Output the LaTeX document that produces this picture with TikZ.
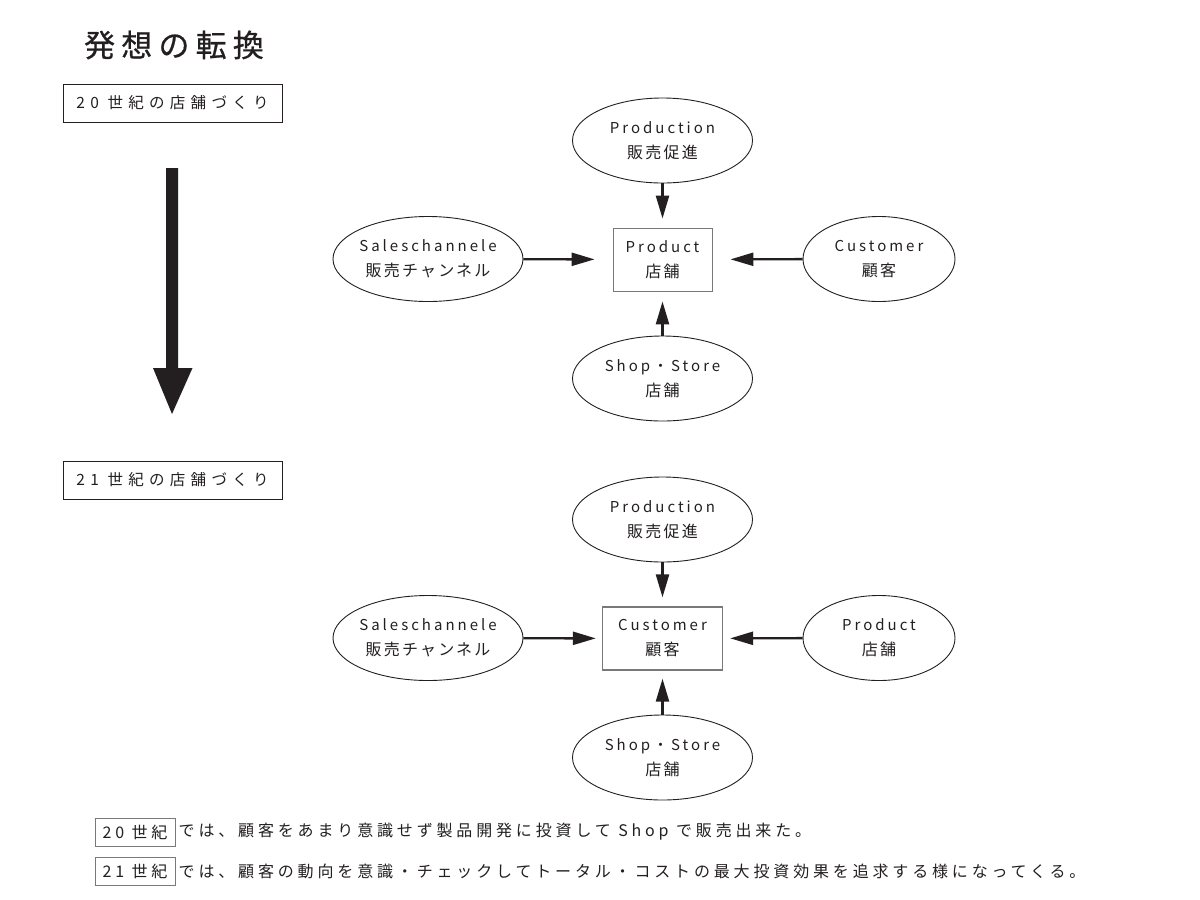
\documentclass[tikz,border=0pt]{standalone}
\usepackage{fontspec}
\setmainfont{Noto Sans CJK JP}
\newfontfamily\latf[LetterSpace=20]{Noto Sans CJK JP}
\newfontfamily\jpf[LetterSpace=14]{Noto Sans CJK JP}
\newfontfamily\boxf[LetterSpace=34]{Noto Sans CJK JP}
\newfontfamily\linef[LetterSpace=24]{Noto Sans CJK JP}
\newfontfamily\titlef[LetterSpace=20,FakeBold=0.6]{Noto Sans CJK JP}
\usetikzlibrary{shapes.geometric,arrows.meta}
\definecolor{ink}{HTML}{231F20}
\definecolor{boxgray}{HTML}{7A7878}
\begin{document}
\begin{tikzpicture}[x=1pt,y=-1pt,
  ell/.style={ellipse,draw=ink,line width=0.9pt,inner sep=0pt,minimum width=180pt,minimum height=85pt},
  ellw/.style={ell,minimum width=190pt},
  elln/.style={ell,minimum width=152pt},
  lbl/.style={align=center,text=ink,inner sep=0pt,font=\fontsize{15}{25}\selectfont},
  cbox/.style={draw=boxgray,line width=0.9pt,inner sep=0pt,minimum width=99pt,minimum height=63pt},
  cboxw/.style={draw=boxgray,line width=1.3pt,inner sep=0pt,minimum width=120pt,minimum height=63pt},
  conn/.style={draw=ink,line width=2.4pt,-{Triangle[length=23pt,width=13pt]}},
  hbox/.style={draw=ink,line width=0.8pt,inner sep=0pt,minimum width=219pt,minimum height=38pt,text=ink,font=\fontsize{15.5}{18}\boxf},
  sbox/.style={draw=boxgray,line width=1pt,inner sep=0pt,minimum width=80pt,minimum height=28pt,text=ink,font=\fontsize{16}{18}\linef},
  stext/.style={anchor=west,inner sep=0pt,text=ink,font=\fontsize{16}{18}\linef}]
\useasboundingbox (0,0) rectangle (1200,900);

% title
\node[text=ink,inner sep=0pt,font=\fontsize{31}{33}\titlef] (title) at (174,45) {発想の転換};

% left header boxes
\node[hbox] (h20) at (172.5,103) {20 世紀の店舗づくり};
\node[hbox] (h21) at (172.5,480) {21 世紀の店舗づくり};

% big arrow
\fill[ink] (166,168) -- (178,168) -- (178,368) -- (192.5,368) -- (172,414) -- (153,368) -- (166,368) -- cycle;

% ---------- 20th century cluster ----------
\node[cbox] (boxA) at (662.5,259.5) {};
\node[lbl] at (boxA) {{\latf Product}\\{\fontsize{16}{25}\jpf 店舗}};
\node[ell] (prodA) at (662.5,140.5) {};
\node[lbl] at (prodA) {{\latf Production}\\{\fontsize{16}{25}\jpf 販売促進}};
\node[ellw] (salesA) at (428,259) {};
\node[lbl] at (salesA) {{\latf Saleschannele}\\{\fontsize{16}{25}\jpf 販売チャンネル}};
\node[elln] (custA) at (879,259) {};
\node[lbl] at (custA) {{\latf Customer}\\{\fontsize{16}{25}\jpf 顧客}};
\node[ell] (shopA) at (662.5,378.5) {};
\node[lbl] at (shopA) {{\latf Shop・Store}\\{\fontsize{16}{25}\jpf 店舗}};

\draw[conn,shorten >=9pt] (prodA) -- (boxA);
\draw[conn,shorten >=18pt] (salesA) -- (boxA);
\draw[conn,shorten >=18pt] (custA) -- (boxA);
\draw[conn,shorten >=10pt] (shopA) -- (boxA);

% ---------- 21st century cluster ----------
\node[cboxw] (boxB) at (662.5,638.5) {};
\node[lbl] at (boxB) {{\latf Customer}\\{\fontsize{16}{25}\jpf 顧客}};
\node[ell] (prodB) at (662.5,519.5) {};
\node[lbl] at (prodB) {{\latf Production}\\{\fontsize{16}{25}\jpf 販売促進}};
\node[ellw] (salesB) at (428,638) {};
\node[lbl] at (salesB) {{\latf Saleschannele}\\{\fontsize{16}{25}\jpf 販売チャンネル}};
\node[elln] (prodC) at (879,638) {};
\node[lbl] at (prodC) {{\latf Product}\\{\fontsize{16}{25}\jpf 店舗}};
\node[ell] (shopB) at (662.5,757.5) {};
\node[lbl] at (shopB) {{\latf Shop・Store}\\{\fontsize{16}{25}\jpf 店舗}};

\draw[conn,shorten >=9pt] (prodB) -- (boxB);
\draw[conn,shorten >=6pt] (salesB) -- (boxB);
\draw[conn,shorten >=7pt] (prodC) -- (boxB);
\draw[conn,shorten >=8pt] (shopB) -- (boxB);

% ---------- bottom text ----------
\node[sbox] (c20) at (135,832) {20 世紀};
\node[stext] (t20) at ([xshift=3pt]c20.east) {では、顧客をあまり意識せず製品開発に投資して Shop で販売出来た。};
\node[sbox] (c21) at (135,871) {21 世紀};
\node[stext] (t21) at ([xshift=3pt]c21.east) {では、顧客の動向を意識・チェックしてトータル・コストの最大投資効果を追求する様になってくる。};
\end{tikzpicture}
\end{document}
